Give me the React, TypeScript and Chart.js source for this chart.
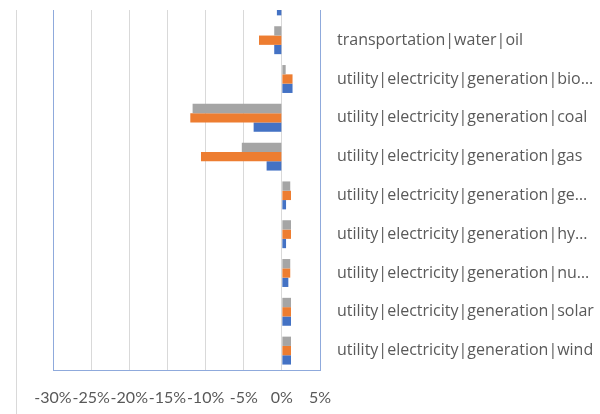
import React, { useEffect, useRef } from "react";
import { Chart, registerables } from "chart.js";

Chart.register(...registerables);

const categories = [
  "",
  "transportation|water|oil",
  "utility|electricity|generation|bio…",
  "utility|electricity|generation|coal",
  "utility|electricity|generation|gas",
  "utility|electricity|generation|ge…",
  "utility|electricity|generation|hy…",
  "utility|electricity|generation|nu…",
  "utility|electricity|generation|solar",
  "utility|electricity|generation|wind",
];

const series3Values = [null, -1.0, 0.5, -11.7, -5.25, 1.1, 1.2, 1.1, 1.2, 1.2];
const series2Values = [null, -3.0, 1.4, -12.0, -10.6, 1.2, 1.2, 1.1, 1.2, 1.2];
const series1Values = [-0.65, -1.0, 1.4, -3.7, -2.0, 0.55, 0.55, 0.85, 1.2, 1.2];

const xMin = -30;
const xMax = 5;
const xStep = 5;

const BLUE = "#4472C4";
const ORANGE = "#ED7D31";
const GRAY = "#A5A5A5";
const FRAME = "#8FAADC";
const GRID = "#D9D9D9";
const TEXT = "#595959";

export default function App() {
  const canvasRef = useRef<HTMLCanvasElement | null>(null);

  useEffect(() => {
    const ctx = canvasRef.current!;
    const chart = new Chart(ctx, {
      type: "bar",
      data: {
        labels: categories,
        datasets: [
          { label: "Series 3", data: series3Values, backgroundColor: GRAY },
          { label: "Series 2", data: series2Values, backgroundColor: ORANGE },
          { label: "Series 1", data: series1Values, backgroundColor: BLUE },
        ],
      },
      options: {
        indexAxis: "y",
        responsive: false,
        animation: false,
        maintainAspectRatio: false,
        layout: { padding: { left: 53, right: 0, top: 0, bottom: 0 } },
        datasets: {
          bar: { categoryPercentage: 0.72, barPercentage: 1.0 },
        },
        plugins: {
          legend: { display: false },
          tooltip: { enabled: false },
        },
        scales: {
          x: {
            type: "linear",
            min: xMin,
            max: xMax,
            ticks: {
              stepSize: xStep,
              color: TEXT,
              padding: 18,
              maxRotation: 0,
              autoSkip: false,
              font: { family: "Lato", size: 16 },
              callback: (v: any) => `${v}%`,
            },
            grid: {
              drawTicks: false,
              color: (c: any) => {
                const v = c.tick ? c.tick.value : null;
                return v === xMin || v === xMax ? FRAME : GRID;
              },
              lineWidth: 1,
            },
            border: { display: true, color: FRAME, width: 1 },
            afterFit: (scale: any) => {
              scale.height = 44;
              scale.paddingLeft = 0;
              scale.paddingRight = 0;
            },
          },
          y: {
            type: "category",
            position: "right",
            ticks: {
              color: TEXT,
              padding: 17,
              autoSkip: false,
              font: { family: "Open Sans", size: 16 },
            },
            grid: { display: false, drawTicks: false },
            border: { display: true, color: FRAME, width: 1 },
            afterFit: (scale: any) => {
              scale.width = 280;
              scale.paddingTop = 0;
              scale.paddingBottom = 0;
            },
          },
        },
      },
    });
    return () => chart.destroy();
  }, []);

  return (
    <div
      style={{
        position: "absolute",
        left: 0,
        top: 0,
        width: 600,
        height: 414,
        background: "#ffffff",
        overflow: "hidden",
      }}
    >
      <div
        style={{
          position: "absolute",
          left: 0,
          top: 10,
          width: 600,
          height: 404,
          overflow: "hidden",
        }}
      >
        <div
          style={{
            position: "absolute",
            left: 16,
            top: 0,
            width: 1,
            height: 404,
            background: GRID,
          }}
        />
        <div style={{ position: "absolute", left: 0, top: -28, width: 600, height: 432 }}>
          <canvas ref={canvasRef} width={600} height={432} style={{ display: "block" }} />
        </div>
      </div>
    </div>
  );
}
